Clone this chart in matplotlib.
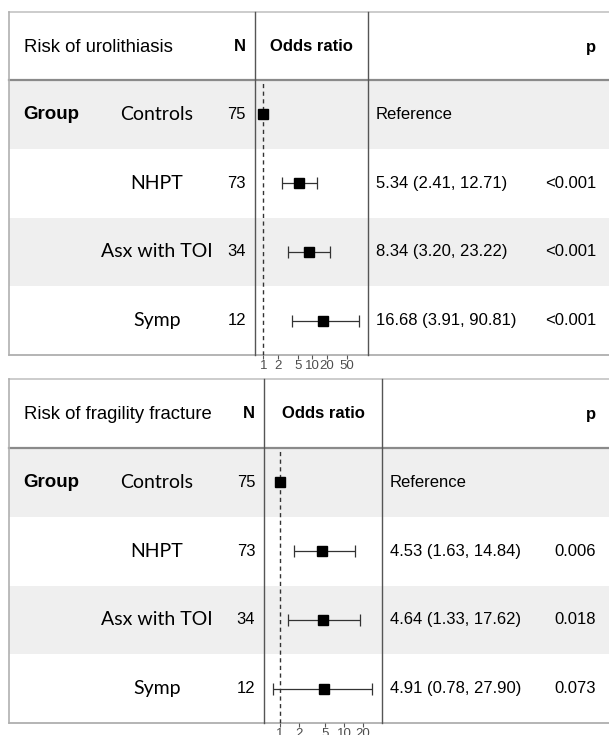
import matplotlib
matplotlib.use("Agg")
import matplotlib.pyplot as plt
from matplotlib.patches import Rectangle
import numpy as np

plt.rcParams['font.family'] = ['Liberation Sans', 'DejaVu Sans']

# data
groups = ["Controls", "NHPT", "Asx with TOI", "Symp"]
n_vals = [75, 73, 34, 12]

uro_or = [1.0, 5.34, 8.34, 16.68]
uro_lo = [1.0, 2.41, 3.20, 3.91]
uro_hi = [1.0, 12.71, 23.22, 90.81]
uro_p = ["", "<0.001", "<0.001", "<0.001"]

frac_or = [1.0, 4.53, 4.64, 4.91]
frac_lo = [1.0, 1.63, 1.33, 0.78]
frac_hi = [1.0, 14.84, 17.62, 27.90]
frac_p = ["", "0.006", "0.018", "0.073"]

uro_ticks = [1, 2, 5, 10, 20, 50]
frac_ticks = [1, 2, 5, 10, 20]

W, H = 609, 735
fig = plt.figure(figsize=(W / 100, H / 100), dpi=100)
bg = fig.add_axes([0, 0, 1, 1])
bg.set_xlim(0, W)
bg.set_ylim(H, 0)
bg.axis("off")


def est_text(o, lo, hi):
    if o == 1.0 and lo == 1.0 and hi == 1.0:
        return "Reference"
    return f"{o:.2f} ({lo:.2f}, {hi:.2f})"


def panel(title, ors, los, his, pvals, ticks, top, head, bottom, v1, v2, xmin, xmax, est_x):
    rowh = (bottom - head) / 4
    # striped rows
    for i in range(4):
        if i % 2 == 0:
            bg.add_patch(Rectangle((9, head + i * rowh), W - 9, rowh,
                                   facecolor="#efefef", edgecolor="none", zorder=0))
    # frame
    bg.plot([9, W], [top, top], color="#c4c4c4", lw=1.2)
    bg.plot([9, W], [head, head], color="#8a8a8a", lw=1.6)
    bg.plot([9, W], [bottom, bottom], color="#a8a8a8", lw=1.2)
    bg.plot([9, 9], [top, bottom], color="#b0b0b0", lw=1.2)
    bg.plot([v1, v1], [top, bottom], color="#555555", lw=1.0)
    bg.plot([v2, v2], [top, bottom], color="#555555", lw=1.0)

    # header
    hy = (top + head) / 2 + 1
    bg.text(24, hy, title, fontsize=13.3, ha="left", va="center")
    bg.text(v1 - 9, hy - 1, "N", fontsize=12, fontweight="bold", ha="right", va="center")
    bg.text((v1 + v2) / 2, hy - 1, "Odds ratio", fontsize=12, fontweight="bold",
            ha="center", va="center")
    bg.text(596, hy, "p", fontsize=12, fontweight="bold", ha="right", va="center")

    # rows
    for i in range(4):
        y = head + (i + 0.5) * rowh
        if i == 0:
            bg.text(23, y, "Group", fontsize=13.5, fontweight="bold", ha="left", va="center")
        bg.text(157, y, groups[i], family=["Lato", "DejaVu Sans"], fontsize=14,
                ha="center", va="center")
        bg.text(v1 - 9, y, str(n_vals[i]), fontsize=12, ha="right", va="center")
        bg.text(est_x, y, est_text(ors[i], los[i], his[i]), fontsize=12,
                ha="left", va="center")
        bg.text(596, y, pvals[i], fontsize=12, ha="right", va="center")

    # forest plot axes
    ax = fig.add_axes([v1 / W, 1 - bottom / H, (v2 - v1) / W, (bottom - head) / H])
    ax.patch.set_alpha(0)
    ax.set_xscale("log")
    ax.set_xlim(xmin, xmax)
    ax.set_ylim(3.5, -0.5)
    for s in ax.spines.values():
        s.set_visible(False)
    ax.axvline(1, color="#333333", lw=1.0, ls=(0, (3, 2.5)))
    o = np.array(ors)
    lo = np.array(los)
    hi = np.array(his)
    yy = np.arange(4)
    ax.errorbar(o[1:], yy[1:], xerr=[o[1:] - lo[1:], hi[1:] - o[1:]], fmt="none",
                ecolor="#333333", elinewidth=0.9, capsize=4, capthick=0.9)
    ax.plot(o, yy, "s", color="black", ms=7)
    ax.set_yticks([])
    ax.set_xticks(ticks)
    ax.set_xticklabels([str(t) for t in ticks])
    ax.xaxis.set_minor_locator(matplotlib.ticker.NullLocator())
    ax.tick_params(axis="x", length=3, width=0.8, color="#555555", pad=0.5,
                   labelsize=9.5, labelcolor="#4d4d4d")


panel("Risk of urolithiasis", uro_or, uro_lo, uro_hi, uro_p, uro_ticks,
      12, 80, 355, 255, 367.7, 0.677, 134, 376)
panel("Risk of fragility fracture", frac_or, frac_lo, frac_hi, frac_p, frac_ticks,
      379, 448, 723, 264.3, 381.7, 0.568, 39.0, 390)

fig.savefig("out.png", dpi=100)
